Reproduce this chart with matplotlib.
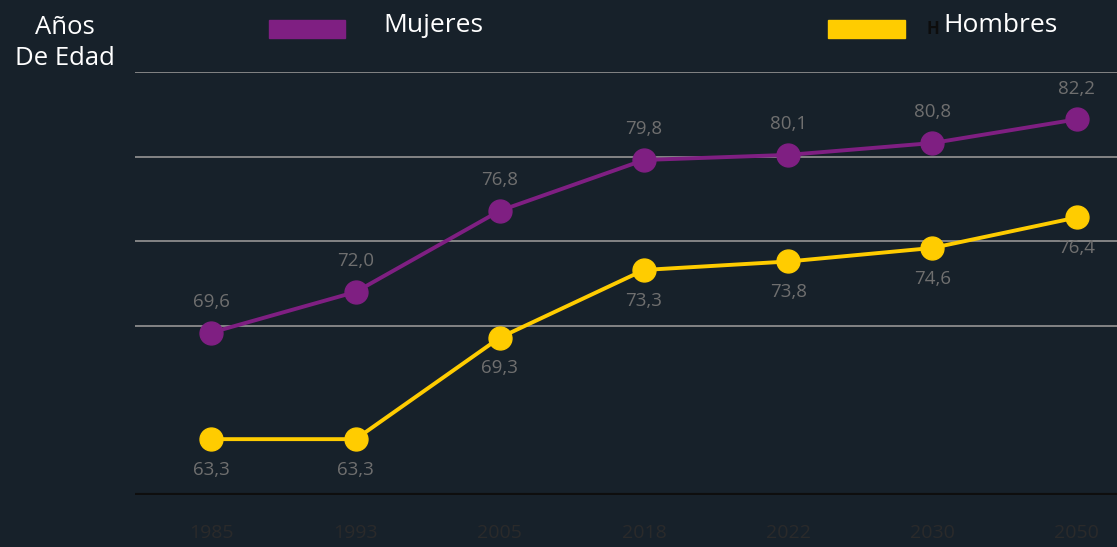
import numpy as np
import matplotlib.pyplot as plt

# %%
years = ['1985', '1993', '2005', '2018', '2022', '2030', '2050']
mujeres = [69.6, 72.0, 76.8, 79.8, 80.1, 80.8, 82.2]
hombres = [63.3, 63.3, 69.3, 73.3, 73.8, 74.6, 76.4]
grid_values = [70, 75, 80, 85]

bg = '#17212a'
purple = '#7f1f82'
yellow = '#ffcc00'
label_grey = '#6f6f6f'

# %%
fig = plt.figure(figsize=(11.17, 5.47), dpi=100, facecolor=bg)
ax = fig.add_axes([0.1209, 0.0951, 0.8791, 0.7733], facecolor=bg)

x = np.arange(len(years))

for v in grid_values:
    ax.axhline(v, color='#8c8c8c', lw=1.3, zorder=1)
ax.axhline(60, color='#0e0e0e', lw=3, zorder=1)

ax.plot(x, mujeres, color=purple, lw=2.8, marker='o', markersize=16.5,
        zorder=3, clip_on=False)
ax.plot(x, hombres, color=yellow, lw=2.8, marker='o', markersize=16.5,
        zorder=3, clip_on=False)

# value labels, comma decimal
for xi, v in zip(x, mujeres):
    ax.annotate(f"{v:.1f}".replace('.', ','), (xi, v), xytext=(0, 22),
                textcoords='offset points', ha='center', va='center',
                color=label_grey, fontsize=13.5, family='Open Sans')
for xi, v in zip(x, hombres):
    ax.annotate(f"{v:.1f}".replace('.', ','), (xi, v), xytext=(0, -22),
                textcoords='offset points', ha='center', va='center',
                color=label_grey, fontsize=13.5, family='Open Sans')

ax.set_xlim(-0.53, 6.28)
ax.set_ylim(60, 85)
ax.set_yticks([])
ax.set_xticks(x)
ax.set_xticklabels(years, color='#2a2a2a', fontsize=14, family='Open Sans')
ax.tick_params(axis='x', length=0, pad=21)
for s in ax.spines.values():
    s.set_visible(False)

# legend built by hand
fig.patches.append(plt.Rectangle((269 / 1117, 1 - 38 / 547), 76 / 1117, 18 / 547,
                                 transform=fig.transFigure, color=purple))
fig.patches.append(plt.Rectangle((828 / 1117, 1 - 38 / 547), 77 / 1117, 18 / 547,
                                 transform=fig.transFigure, color=yellow))
fig.text(383 / 1117, 1 - 25 / 547, 'Mujeres', color='white', fontsize=19,
         family='Open Sans', va='center', ha='left')
fig.text(926 / 1117, 1 - 29 / 547, 'H', color='#0d0d0d', fontsize=12,
         family='Open Sans', va='center', ha='left', weight='bold')
fig.text(943 / 1117, 1 - 25 / 547, 'Hombres', color='white', fontsize=19,
         family='Open Sans', va='center', ha='left')

fig.text(65 / 1117, 1 - 43 / 547, 'Años\nDe Edad', color='white', fontsize=18.5,
         family='Open Sans', va='center', ha='center', linespacing=1.3)

plt.savefig('out.png', facecolor=bg)
